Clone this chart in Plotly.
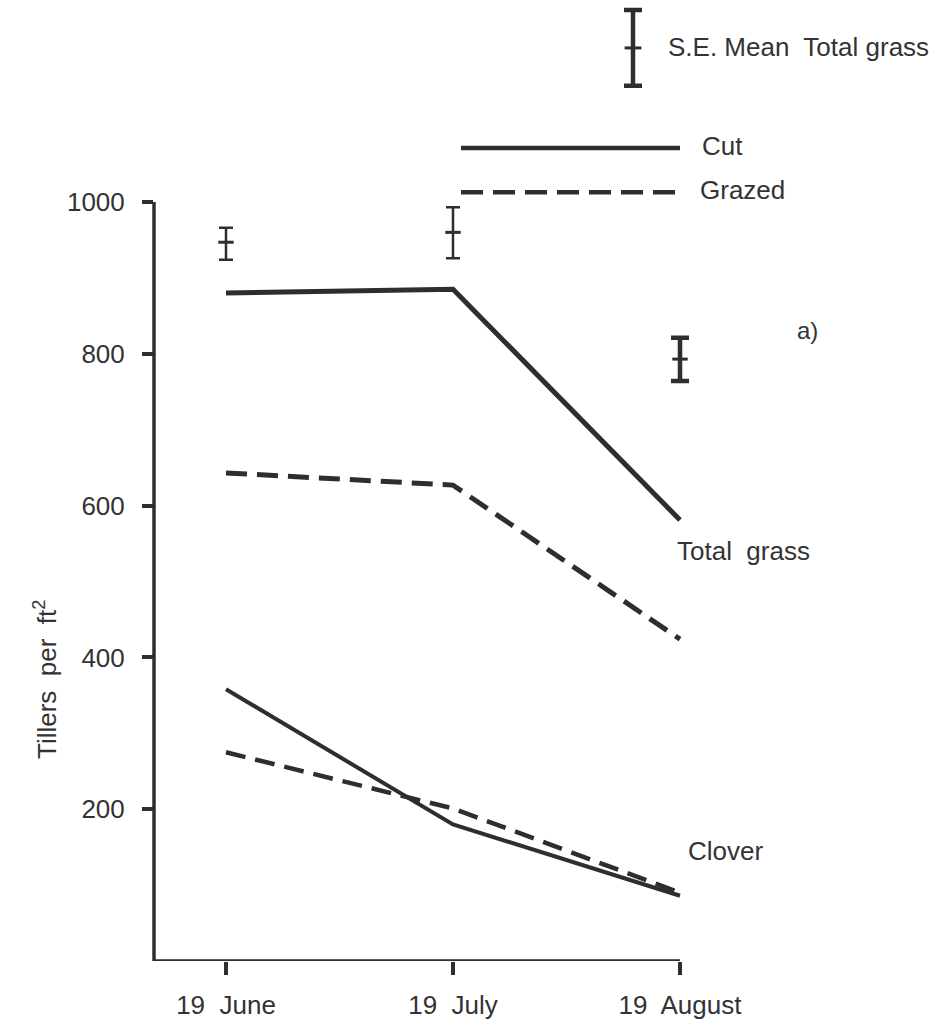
import plotly.graph_objects as go

# Sampling dates
dates = ["19  June", "19  July", "19  August"]
date_pos = [0, 1, 2]

# Tillers per ft^2
total_cut = [880, 885, 581]
total_grazed = [643, 627, 424]
clover_cut = [358, 180, 86]
clover_grazed = [275, 201, 90]

# Standard error of the mean for total grass
se_centre = [947, 960, 793]
se_upper = [966, 993, 821]
se_lower = [924, 926, 764]

# Key entries
key_se_centre = 1203
key_se_half = 50
key_cut_level = 1071
key_grazed_level = 1013

y_ticks = [200, 400, 600, 800, 1000]

INK = "#2e2e2e"
TXT = "#333333"
FONT = "Liberation Sans"
FS = 26

# pixel -> data helpers for placing labels
def px_x(p):
    return (p - 226) / 227.0

def px_y(p):
    return (961 - p) / 0.759

fig = go.Figure()

solid = dict(color=INK, width=5)
dashed = dict(color=INK, width=5, dash="21px,10px")

fig.add_trace(go.Scatter(x=date_pos, y=total_cut, mode="lines", line=solid))
fig.add_trace(go.Scatter(x=date_pos, y=total_grazed, mode="lines", line=dashed))
fig.add_trace(go.Scatter(x=date_pos, y=clover_cut, mode="lines",
                         line=dict(color=INK, width=4)))
fig.add_trace(go.Scatter(x=date_pos, y=clover_grazed, mode="lines",
                         line=dict(color=INK, width=4.5, dash="20px,10px")))

# S.E. bars
for i, xv in enumerate(date_pos):
    thick = 4.5 if i == 2 else 2.5
    capw = 9 if i == 2 else 7
    fig.add_trace(go.Scatter(
        x=[xv], y=[se_centre[i]], mode="markers",
        marker=dict(symbol="line-ew", size=11, line=dict(color=INK, width=3)),
        error_y=dict(type="data", symmetric=False,
                     array=[se_upper[i] - se_centre[i]],
                     arrayminus=[se_centre[i] - se_lower[i]],
                     color=INK, thickness=thick, width=capw),
    ))

# Key: S.E. bar and line styles
kx = px_x(633)
fig.add_trace(go.Scatter(
    x=[kx], y=[key_se_centre], mode="markers",
    marker=dict(symbol="line-ew", size=12, line=dict(color=INK, width=3)),
    error_y=dict(type="data", symmetric=True, array=[key_se_half],
                 color=INK, thickness=4.5, width=9),
))
kx0, kx1 = px_x(461), px_x(680)
fig.add_trace(go.Scatter(x=[kx0, kx1], y=[key_cut_level] * 2, mode="lines",
                         line=dict(color=INK, width=4.5)))
fig.add_trace(go.Scatter(x=[kx0, kx1], y=[key_grazed_level] * 2, mode="lines",
                         line=dict(color=INK, width=4.5, dash="22px,10px")))

# Axis lines
fig.add_shape(type="line", xref="paper", yref="y", x0=0, x1=0, y0=0, y1=1000,
              line=dict(color=INK, width=3.5))
fig.add_shape(type="line", xref="paper", yref="y", x0=0, x1=(680 - 154) / (951 - 154),
              y0=0, y1=0, line=dict(color=INK, width=3.5))

def label(text, px, py, anchor="left", size=FS):
    fig.add_annotation(x=px_x(px), y=px_y(py), text=text, showarrow=False,
                       xanchor=anchor, yanchor="middle",
                       font=dict(family=FONT, size=size, color=TXT))

label("S.E. Mean  Total grass", 666, 47)
label("Cut", 700, 146)
label("Grazed", 698, 190)
label("a)", 795, 330, size=24)
label("Total  grass", 675, 551)
label("Clover", 686, 851)

fig.add_annotation(x=(45 - 154) / (951 - 154), xref="paper", y=px_y(680),
                   text="Tillers  per  ft<sup>2</sup>",
                   showarrow=False, textangle=-90, xanchor="center", yanchor="middle",
                   font=dict(family=FONT, size=FS, color=TXT))

fig.update_xaxes(range=[px_x(154), px_x(951)], tickvals=date_pos, ticktext=dates,
                 ticks="outside", ticklen=13, tickwidth=3.5, tickcolor=INK,
                 ticklabelstandoff=8,
                 showline=False, showgrid=False, zeroline=False,
                 tickfont=dict(family=FONT, size=FS, color=TXT))
fig.update_yaxes(range=[0, px_y(0)], tickvals=y_ticks,
                 ticks="outside", ticklen=11, tickwidth=3.5, tickcolor=INK,
                 ticklabelstandoff=12,
                 showline=False, showgrid=False, zeroline=False,
                 tickfont=dict(family=FONT, size=FS, color=TXT))

fig.update_layout(width=951, height=1028, showlegend=False,
                  margin=dict(l=154, r=0, t=0, b=67),
                  plot_bgcolor="white", paper_bgcolor="white")

fig.write_html("out.html")
